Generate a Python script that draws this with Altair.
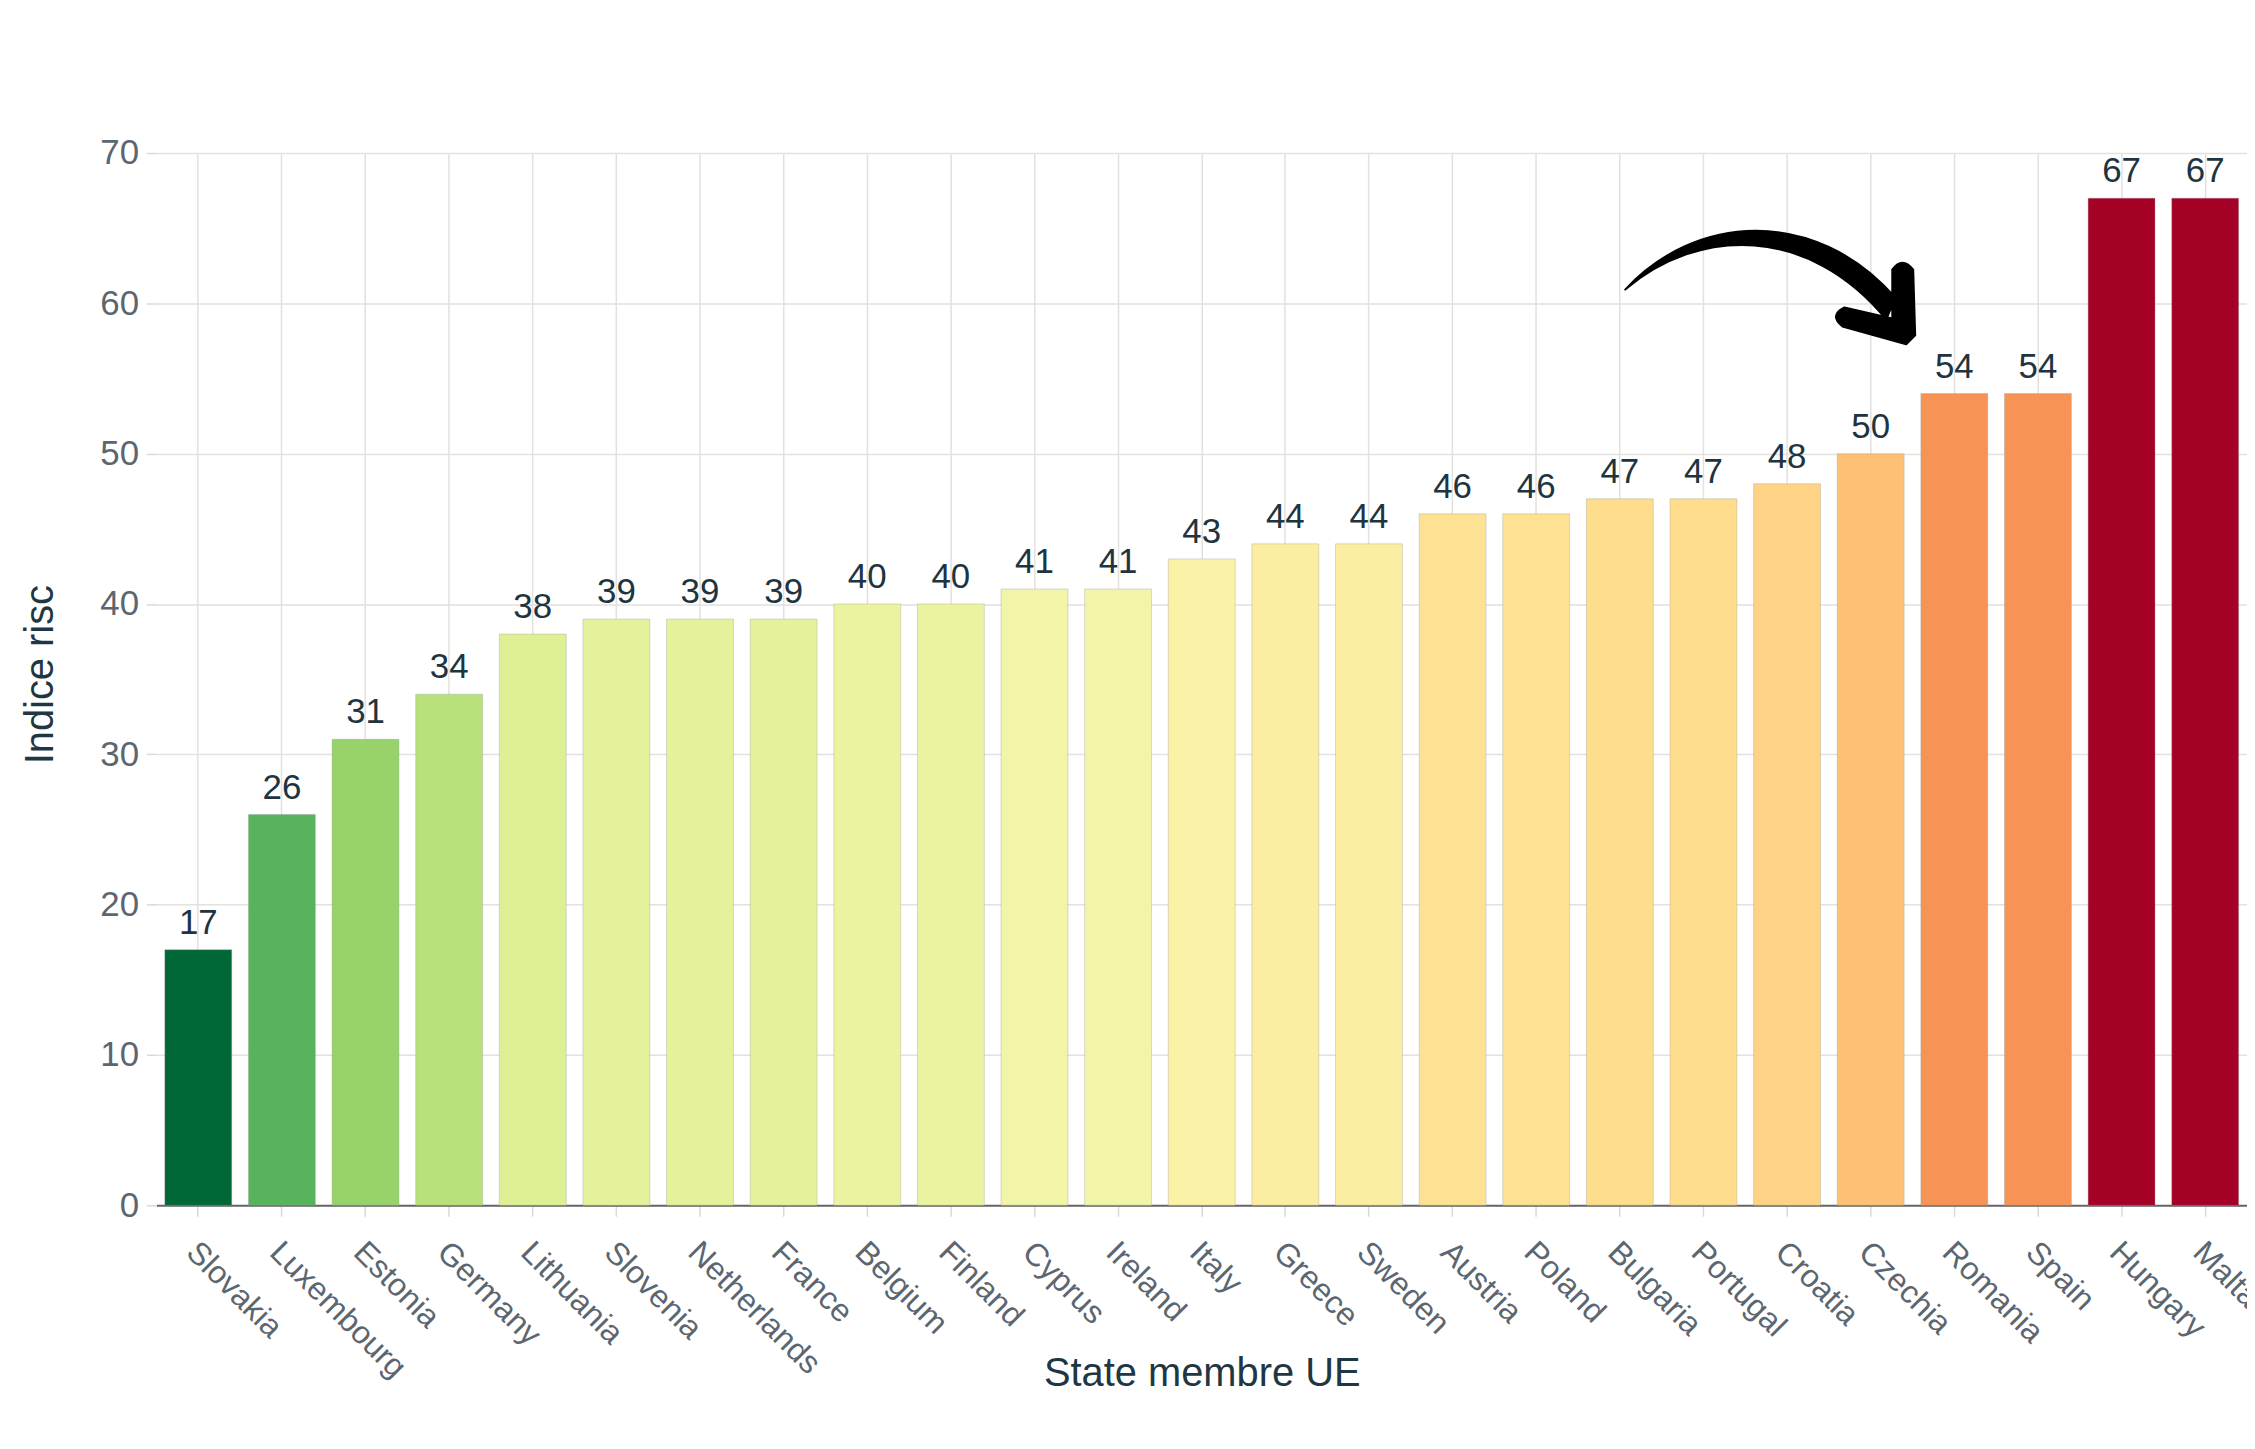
import altair as alt
import pandas as pd

# ---- data ----
countries = ["Slovakia", "Luxembourg", "Estonia", "Germany", "Lithuania", "Slovenia",
             "Netherlands", "France", "Belgium", "Finland", "Cyprus", "Ireland", "Italy",
             "Greece", "Sweden", "Austria", "Poland", "Bulgaria", "Portugal", "Croatia",
             "Czechia", "Romania", "Spain", "Hungary", "Malta"]
values = [17, 26, 31, 34, 38, 39, 39, 39, 40, 40, 41, 41, 43, 44, 44, 46, 46, 47, 47, 48,
          50, 54, 54, 67, 67]
y_ticks = [0, 10, 20, 30, 40, 50, 60, 70]

x_title = "State membre UE"
y_title = "Indice risc"

df = pd.DataFrame({"Stat": countries, "Indice": values})

W, H = 2098, 1056
FONT = "Liberation Sans"

# curved annotation arrow (pixel offsets around its centre)
ARROW = ("M -140 5 C -71 -70 49 -80 131 13 L 122 35 C 44 -60 -66 -58 -140 5 Z "
         "M 128 -15 Q 138 -29 149 -15 L 151 51 L 142 60 L 78 42 Q 64 31 80 23 L 128 34 Z")

x_enc = alt.X(
    "Stat:N",
    sort=countries,
    scale=alt.Scale(paddingInner=0.2, paddingOuter=0.1),
    axis=alt.Axis(
        title=x_title, titleFont=FONT, titleFontSize=40, titleFontWeight="normal",
        titleColor="#1f3743", titleY=181, titleBaseline="alphabetic",
        labelAngle=45, labelAlign="left", labelBaseline="top", labelFont=FONT,
        labelFontSize=32, labelColor="#5b6670", labelPadding=20, labelOffset=4,
        labelLimit=500, labelOverlap=False,
        tickSize=11, tickColor="#d9d9d9", tickWidth=1.5,
        domainColor="#666666", domainWidth=2,
        grid=True, gridColor="#e3e1de", gridWidth=1.5,
    ),
)

y_enc = alt.Y(
    "Indice:Q",
    scale=alt.Scale(domain=[0, 70], nice=False),
    axis=alt.Axis(
        title=y_title, titleFont=FONT, titleFontSize=40, titleFontWeight="normal",
        titleColor="#1f3743", titleAngle=-90, titleX=-104, titleY=H / 2 - 5,
        titleAlign="center", titleBaseline="alphabetic",
        values=y_ticks, labelFont=FONT, labelFontSize=35, labelColor="#5b6670",
        labelPadding=8, tickSize=10, tickColor="#d9d9d9", tickWidth=1.5,
        domain=False, grid=True, gridColor="#e3e1de", gridWidth=1.5,
    ),
)

bars = alt.Chart(df).mark_bar(stroke="#9a9a9a", strokeOpacity=0.35, strokeWidth=1).encode(
    x=x_enc,
    y=y_enc,
    color=alt.Color("Indice:Q",
                    scale=alt.Scale(scheme="redyellowgreen", reverse=True, domain=[17, 67]),
                    legend=None),
)

labels = alt.Chart(df).mark_text(
    dy=-16, baseline="alphabetic", align="center", font=FONT, fontSize=35, color="#1e3440"
).encode(
    x=alt.X("Stat:N", sort=countries),
    y=alt.Y("Indice:Q"),
    text=alt.Text("Indice:Q"),
)

arrow = alt.Chart(pd.DataFrame({"a": [1]})).mark_point(
    shape=ARROW, size=4, filled=True, fill="black", stroke="black", strokeWidth=2,
    strokeJoin="round", opacity=1
).encode(x=alt.value(1614), y=alt.value(132))

chart = alt.layer(bars, labels, arrow).properties(
    width=W, height=H,
    padding={"left": 149, "top": 143, "right": 0, "bottom": 232},
    autosize=alt.AutoSizeParams(type="none"),
    background="white",
).configure_view(stroke=None)

chart.save("out.html", embed_options={"renderer": "svg", "actions": False})
